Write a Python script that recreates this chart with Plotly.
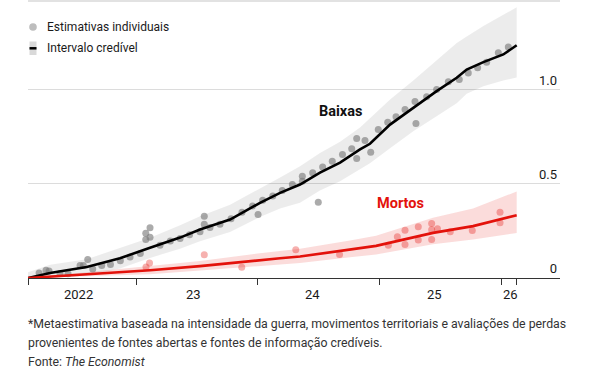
import plotly.graph_objects as go

# ---------------- data (x in fractional years, y in millions) ----------------
line_t = [2022.112, 2022.293, 2022.595, 2022.868, 2023.115, 2023.362, 2023.526, 2023.773,
          2024.019, 2024.184, 2024.348, 2024.512, 2024.677, 2024.841, 2024.923, 2025.088,
          2025.279, 2025.471, 2025.636, 2025.718, 2025.855, 2026.019, 2026.129]
baixas = [0.0, 0.027, 0.059, 0.105, 0.161, 0.215, 0.258, 0.311,
          0.400, 0.453, 0.497, 0.560, 0.614, 0.684, 0.714, 0.816,
          0.905, 0.994, 1.065, 1.109, 1.148, 1.189, 1.238]
baixas_hi = [0.03, 0.07, 0.10, 0.16, 0.214, 0.28, 0.329, 0.39,
             0.475, 0.535, 0.595, 0.665, 0.725, 0.80, 0.85, 0.95,
             1.05, 1.16, 1.25, 1.285, 1.34, 1.40, 1.44]
baixas_lo = [0.0, 0.0, 0.015, 0.05, 0.107, 0.155, 0.196, 0.245,
             0.325, 0.37, 0.40, 0.465, 0.515, 0.58, 0.61, 0.69,
             0.78, 0.86, 0.93, 0.98, 1.02, 1.05, 1.066]

mortos_t = [2022.112, 2022.595, 2023.115, 2023.526, 2024.0, 2024.184, 2024.348, 2024.759,
            2024.973, 2025.441, 2025.770, 2026.129]
mortos = [0.0, 0.019, 0.041, 0.063, 0.095, 0.105, 0.114, 0.152,
          0.171, 0.240, 0.276, 0.334]
mortos_hi = [0.0, 0.03, 0.065, 0.09, 0.13, 0.143, 0.155, 0.20,
             0.225, 0.32, 0.37, 0.46]
mortos_lo = [0.0, 0.01, 0.02, 0.04, 0.065, 0.073, 0.08, 0.11,
             0.125, 0.18, 0.205, 0.24]

pts_baixas_t = [2022.203, 2022.260, 2022.285, 2022.375, 2022.441, 2022.540, 2022.567, 2022.603,
                2022.644, 2022.718, 2022.790, 2022.871, 2022.951, 2023.035, 2023.080, 2023.115,
                2023.080, 2023.115, 2023.197, 2023.282, 2023.362, 2023.440, 2023.526, 2023.561,
                2023.561, 2023.608, 2023.690, 2023.781, 2023.871, 2023.958, 2024.003, 2024.041,
                2024.124, 2024.202, 2024.285, 2024.367, 2024.367, 2024.452, 2024.498, 2024.534,
                2024.613, 2024.697, 2024.773, 2024.814, 2024.814, 2024.882, 2024.929, 2024.991,
                2025.069, 2025.137, 2025.211, 2025.301, 2025.293, 2025.389, 2025.471, 2025.567,
                2025.657, 2025.731, 2025.808, 2025.882, 2025.978, 2026.060]
pts_baixas_v = [0.027, 0.041, 0.037, 0.024, 0.022, 0.066, 0.066, 0.098,
                0.048, 0.066, 0.072, 0.092, 0.112, 0.130, 0.238, 0.267,
                0.205, 0.217, 0.174, 0.197, 0.210, 0.230, 0.246, 0.329,
                0.286, 0.269, 0.286, 0.315, 0.350, 0.383, 0.338, 0.414,
                0.436, 0.465, 0.497, 0.541, 0.515, 0.560, 0.403, 0.591,
                0.621, 0.657, 0.687, 0.742, 0.636, 0.731, 0.669, 0.790,
                0.829, 0.857, 0.896, 0.822, 0.939, 0.964, 1.003, 1.044,
                1.056, 1.090, 1.118, 1.147, 1.198, 1.229]

pts_mortos_t = [2023.082, 2023.111, 2023.561, 2023.869, 2024.313, 2024.673, 2025.074, 2025.148,
                2025.211, 2025.211, 2025.320, 2025.320, 2025.430, 2025.430, 2025.430, 2025.478,
                2025.583, 2025.764, 2025.992, 2025.992]
pts_mortos_v = [0.059, 0.080, 0.124, 0.057, 0.150, 0.125, 0.174, 0.220,
                0.254, 0.178, 0.272, 0.202, 0.290, 0.256, 0.205, 0.262,
                0.246, 0.252, 0.350, 0.294]

x_tick_vals = [2022.112, 2023, 2024, 2025, 2026, 2026.129]
year_labels = ["2022", "23", "24", "25", "26"]
year_label_x = [2022.53, 2023.47, 2024.45, 2025.45, 2026.08]
y_tick_vals = [0, 0.5, 1.0]
y_tick_text = ["0", "0.5", "1.0"]

RED = "#e3120b"
FONT = "Roboto, sans-serif"
TXT = "#1a1a1a"

# ---------------- figure ----------------
fig = go.Figure()

# credible intervals
fig.add_trace(go.Scatter(x=line_t, y=baixas_hi, mode="lines", line=dict(width=0),
                         hoverinfo="skip", showlegend=False))
fig.add_trace(go.Scatter(x=line_t, y=baixas_lo, mode="lines", line=dict(width=0),
                         fill="tonexty", fillcolor="rgba(0,0,0,0.075)",
                         hoverinfo="skip", showlegend=False))
fig.add_trace(go.Scatter(x=mortos_t, y=mortos_hi, mode="lines", line=dict(width=0),
                         hoverinfo="skip", showlegend=False))
fig.add_trace(go.Scatter(x=mortos_t, y=mortos_lo, mode="lines", line=dict(width=0),
                         fill="tonexty", fillcolor="rgba(227,18,11,0.15)",
                         hoverinfo="skip", showlegend=False))

# individual estimates
fig.add_trace(go.Scatter(x=pts_baixas_t, y=pts_baixas_v, mode="markers",
                         marker=dict(size=7, color="rgba(120,120,120,0.62)", line=dict(width=0)),
                         showlegend=False))
fig.add_trace(go.Scatter(x=pts_mortos_t, y=pts_mortos_v, mode="markers",
                         marker=dict(size=7, color="rgba(227,18,11,0.33)", line=dict(width=0)),
                         showlegend=False))

# central lines
fig.add_trace(go.Scatter(x=line_t, y=baixas, mode="lines",
                         line=dict(color="#000000", width=2.6), showlegend=False))
fig.add_trace(go.Scatter(x=mortos_t, y=mortos, mode="lines",
                         line=dict(color=RED, width=2.6), showlegend=False))

# ---------------- layout ----------------
W, H = 600, 378
ML, MR, MT, MB = 28, 40, 2, 100
PW, PH = W - ML - MR, H - MT - MB


def px(x):
    return (x - ML) / PW


def py(y):
    return (H - MB - y) / PH


fig.update_layout(
    width=W, height=H,
    margin=dict(l=ML, r=MR, t=MT, b=MB),
    paper_bgcolor="white", plot_bgcolor="white",
    font=dict(family=FONT, size=13, color=TXT),
    showlegend=False,
    xaxis=dict(range=[2022.112, 2026.485], showgrid=False, zeroline=False,
               showline=True, linecolor="#333333", linewidth=1,
               tickmode="array", tickvals=x_tick_vals, showticklabels=False,
               ticks="outside", ticklen=6, tickcolor="#333333", tickwidth=1),
    yaxis=dict(range=[0, 1.468], side="right", showgrid=True, gridcolor="#dcdcdc",
               gridwidth=1, zeroline=False, showline=False,
               tickmode="array", tickvals=y_tick_vals, ticktext=y_tick_text,
               ticklabelposition="inside top", ticks="", ticklen=0,
               tickfont=dict(size=13, color=TXT)),
)

annotations = []
for lab, xv in zip(year_labels, year_label_x):
    annotations.append(dict(x=xv, y=py(294), xref="x", yref="paper", text=lab,
                            showarrow=False, xanchor="center", yanchor="middle",
                            font=dict(size=13, color=TXT)))

NOTE = "#333333"
annotations += [
    dict(x=px(45), y=py(27), xref="paper", yref="paper", text="Estimativas individuais",
         showarrow=False, xanchor="left", yanchor="middle", font=dict(size=12, color=TXT)),
    dict(x=px(45), y=py(48), xref="paper", yref="paper", text="Intervalo credível",
         showarrow=False, xanchor="left", yanchor="middle", font=dict(size=12, color=TXT)),
    dict(x=px(340), y=py(111), xref="paper", yref="paper", text="<b>Baixas</b>",
         showarrow=False, xanchor="center", yanchor="middle", font=dict(size=14.5, color="#111111")),
    dict(x=px(400), y=py(203), xref="paper", yref="paper", text="<b>Mortos</b>",
         showarrow=False, xanchor="center", yanchor="middle", font=dict(size=14.5, color=RED)),
    dict(x=px(26), y=py(324), xref="paper", yref="paper",
         text="*Metaestimativa baseada na intensidade da guerra, movimentos territoriais e avaliações de perdas",
         showarrow=False, xanchor="left", yanchor="middle", font=dict(size=12.3, color=NOTE)),
    dict(x=px(26), y=py(343), xref="paper", yref="paper",
         text="provenientes de fontes abertas e fontes de informação credíveis.",
         showarrow=False, xanchor="left", yanchor="middle", font=dict(size=12.3, color=NOTE)),
    dict(x=px(26), y=py(362), xref="paper", yref="paper",
         text="Fonte: <i>The Economist</i>",
         showarrow=False, xanchor="left", yanchor="middle", font=dict(size=12.3, color=NOTE)),
]
fig.update_layout(annotations=annotations)

shapes = [
    # faint top rule
    dict(type="line", xref="paper", yref="paper", x0=0, x1=1, y0=py(1), y1=py(1),
         line=dict(color="#e2e2e2", width=2)),
    # legend: dot
    dict(type="circle", xref="paper", yref="paper", xsizemode="pixel", ysizemode="pixel",
         xanchor=px(33), yanchor=py(27), x0=-3.8, x1=3.8, y0=-3.8, y1=3.8,
         fillcolor="#bdbdbd", line=dict(width=0)),
    # legend: band
    dict(type="rect", xref="paper", yref="paper", x0=px(29.5), x1=px(36.5), y0=py(55), y1=py(41.5),
         fillcolor="#d9d9d9", line=dict(width=0)),
    dict(type="line", xref="paper", yref="paper", x0=px(29.5), x1=px(36.5), y0=py(48.3), y1=py(48.3),
         line=dict(color="#000000", width=2.5)),
]
fig.update_layout(shapes=shapes)

fig.write_html("out.html",
               config={"displayModeBar": False},
               post_script="document.body.style.margin='0px';document.body.style.overflow='hidden';")
